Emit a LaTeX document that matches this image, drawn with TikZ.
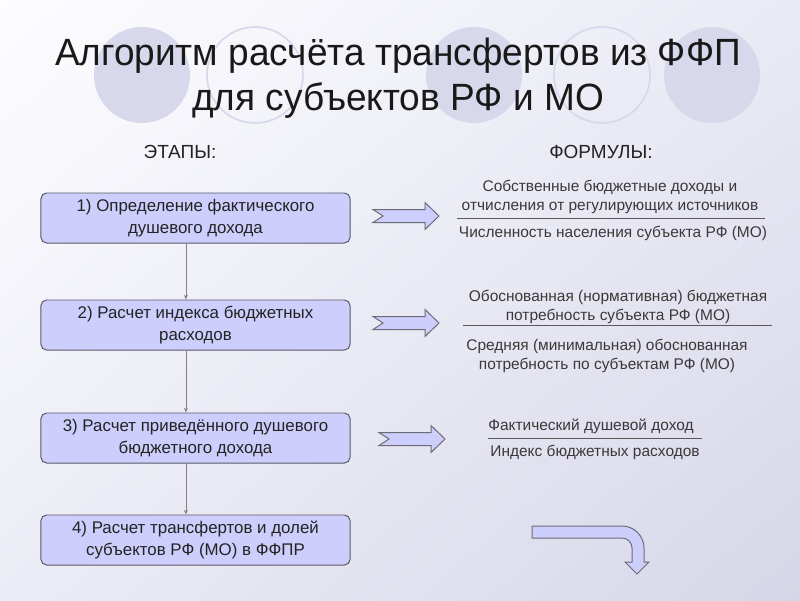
\documentclass[tikz,border=0pt]{standalone}
\usepackage{fontspec}
\setmainfont{Liberation Sans}
\usetikzlibrary{positioning, arrows.meta, calc, shadings}
\definecolor{fonsvet}{RGB}{253,253,255}
\definecolor{fonpravo}{RGB}{234,234,245}
\definecolor{fonlevo}{RGB}{236,236,246}
\definecolor{fontemn}{RGB}{214,214,232}
\definecolor{krug}{RGB}{216,216,236}
\definecolor{etapfon}{RGB}{206,206,253}
\definecolor{ramka}{RGB}{90,90,105}
\definecolor{tekst}{RGB}{35,35,35}

\begin{document}
\begin{tikzpicture}[x=0.025cm, y=-0.025cm,
    >={Stealth[length=1.2mm, width=1mm]},
    etap/.style={rectangle, rounded corners=4pt, draw=ramka, line width=0.7pt,
                 fill=etapfon, align=center, minimum width=7.725cm, minimum height=1.25cm,
                 inner sep=0pt, text=tekst, font=\fontsize{12}{15.5}\selectfont},
    formula/.style={align=center, inner sep=0pt, text=tekst!90, font=\fontsize{11}{13.5}\selectfont},
    shapka/.style={inner sep=0pt, text=tekst, font=\fontsize{13.5}{15}\selectfont},
    zagolovok/.style={align=center, inner sep=0pt, text=black!90, xscale=0.975, transform shape,
                      font=\fontsize{27}{32}\selectfont},
    svyaz/.style={->, line width=0.5pt, draw=gray},
    drob/.style={line width=0.7pt, draw=black!65},
    blok/.style={draw=ramka!90, line width=0.7pt, fill=etapfon, line join=miter},
    blokstrelka/.pic={\draw[blok] (-33,-6.5) -- (19,-6.5) -- (19,-13.5) -- (33,0) -- (19,13.5)
                        -- (19,6.5) -- (-33,6.5) -- (-23,0) -- cycle;}]
    % fon
    \useasboundingbox (0,0) rectangle (800,600);
    \shade[upper left=fonsvet, upper right=fonpravo, lower left=fonlevo, lower right=fontemn]
        (0,0) rectangle (800,600);
    \foreach \cx in {142, 474, 712}
        \fill[krug] (\cx,75) circle[radius=48];
    \foreach \cx in {255, 602}
        \draw[krug, line width=1.2pt] (\cx,75) circle[radius=48];
    % zagolovok
    \node[zagolovok] (zag) at (398,78) {Алгоритм расчёта трансфертов из ФФП\\для субъектов РФ и МО};
    \node[shapka] (etapy) at (180,152) {ЭТАПЫ:};
    \node[shapka] (formuly) at (601,152) {ФОРМУЛЫ:};
    % etapy
    \node[etap] (e1) at (195.5,218) {1) Определение фактического\\душевого дохода};
    \node[etap] (e2) at (195.5,325) {2) Расчет индекса бюджетных\\расходов};
    \node[etap] (e3) at (195.5,438) {3) Расчет приведённого душевого\\бюджетного дохода};
    \node[etap] (e4) at (195.5,540) {4) Расчет трансфертов и долей\\субъектов РФ (МО) в ФФПР};
    \draw[svyaz] ([xshift=-0.24cm]e1.south) -- ([xshift=-0.24cm]e2.north);
    \draw[svyaz] ([xshift=-0.24cm]e2.south) -- ([xshift=-0.24cm]e3.north);
    \draw[svyaz] ([xshift=-0.24cm]e3.south) -- ([xshift=-0.24cm]e4.north);
    % strelki
    \pic at (406,216) {blokstrelka};
    \pic at (406,323) {blokstrelka};
    \pic at (412,439) {blokstrelka};
    \draw[blok] (532,526) -- (622,526) .. controls (634.15,526) and (644,535.85) .. (644,548)
        -- (644,562) -- (649,562) -- (637,574) -- (625,562) -- (632,562) -- (632,548)
        .. controls (632,542.48) and (627.52,538) .. (622,538) -- (532,538) -- cycle;
    % formuly
    \node[formula] (ch1) at (610,197) {Собственные бюджетные доходы и\\отчисления от регулирующих источников};
    \node[formula] (zn1) at (613,233) {Численность населения субъекта РФ (МО)};
    \coordinate (d1a) at (457,218);
    \coordinate (d1b) at (765,218);
    \draw[drob] (d1a) -- (d1b);
    \node[formula] (ch2) at (618,306.5) {Обоснованная (нормативная) бюджетная\\потребность субъекта РФ (МО)};
    \node[formula] (zn2) at (607,355.5) {Средняя (минимальная) обоснованная\\потребность по субъектам РФ (МО)};
    \coordinate (d2a) at (463,325);
    \coordinate (d2b) at (772,325);
    \draw[drob] (d2a) -- (d2b);
    \node[formula] (ch3) at (591,426) {Фактический душевой доход};
    \node[formula] (zn3) at (595,452) {Индекс бюджетных расходов};
    \coordinate (d3a) at (488,438);
    \coordinate (d3b) at (702,438);
    \draw[drob] (d3a) -- (d3b);
\end{tikzpicture}
\end{document}
